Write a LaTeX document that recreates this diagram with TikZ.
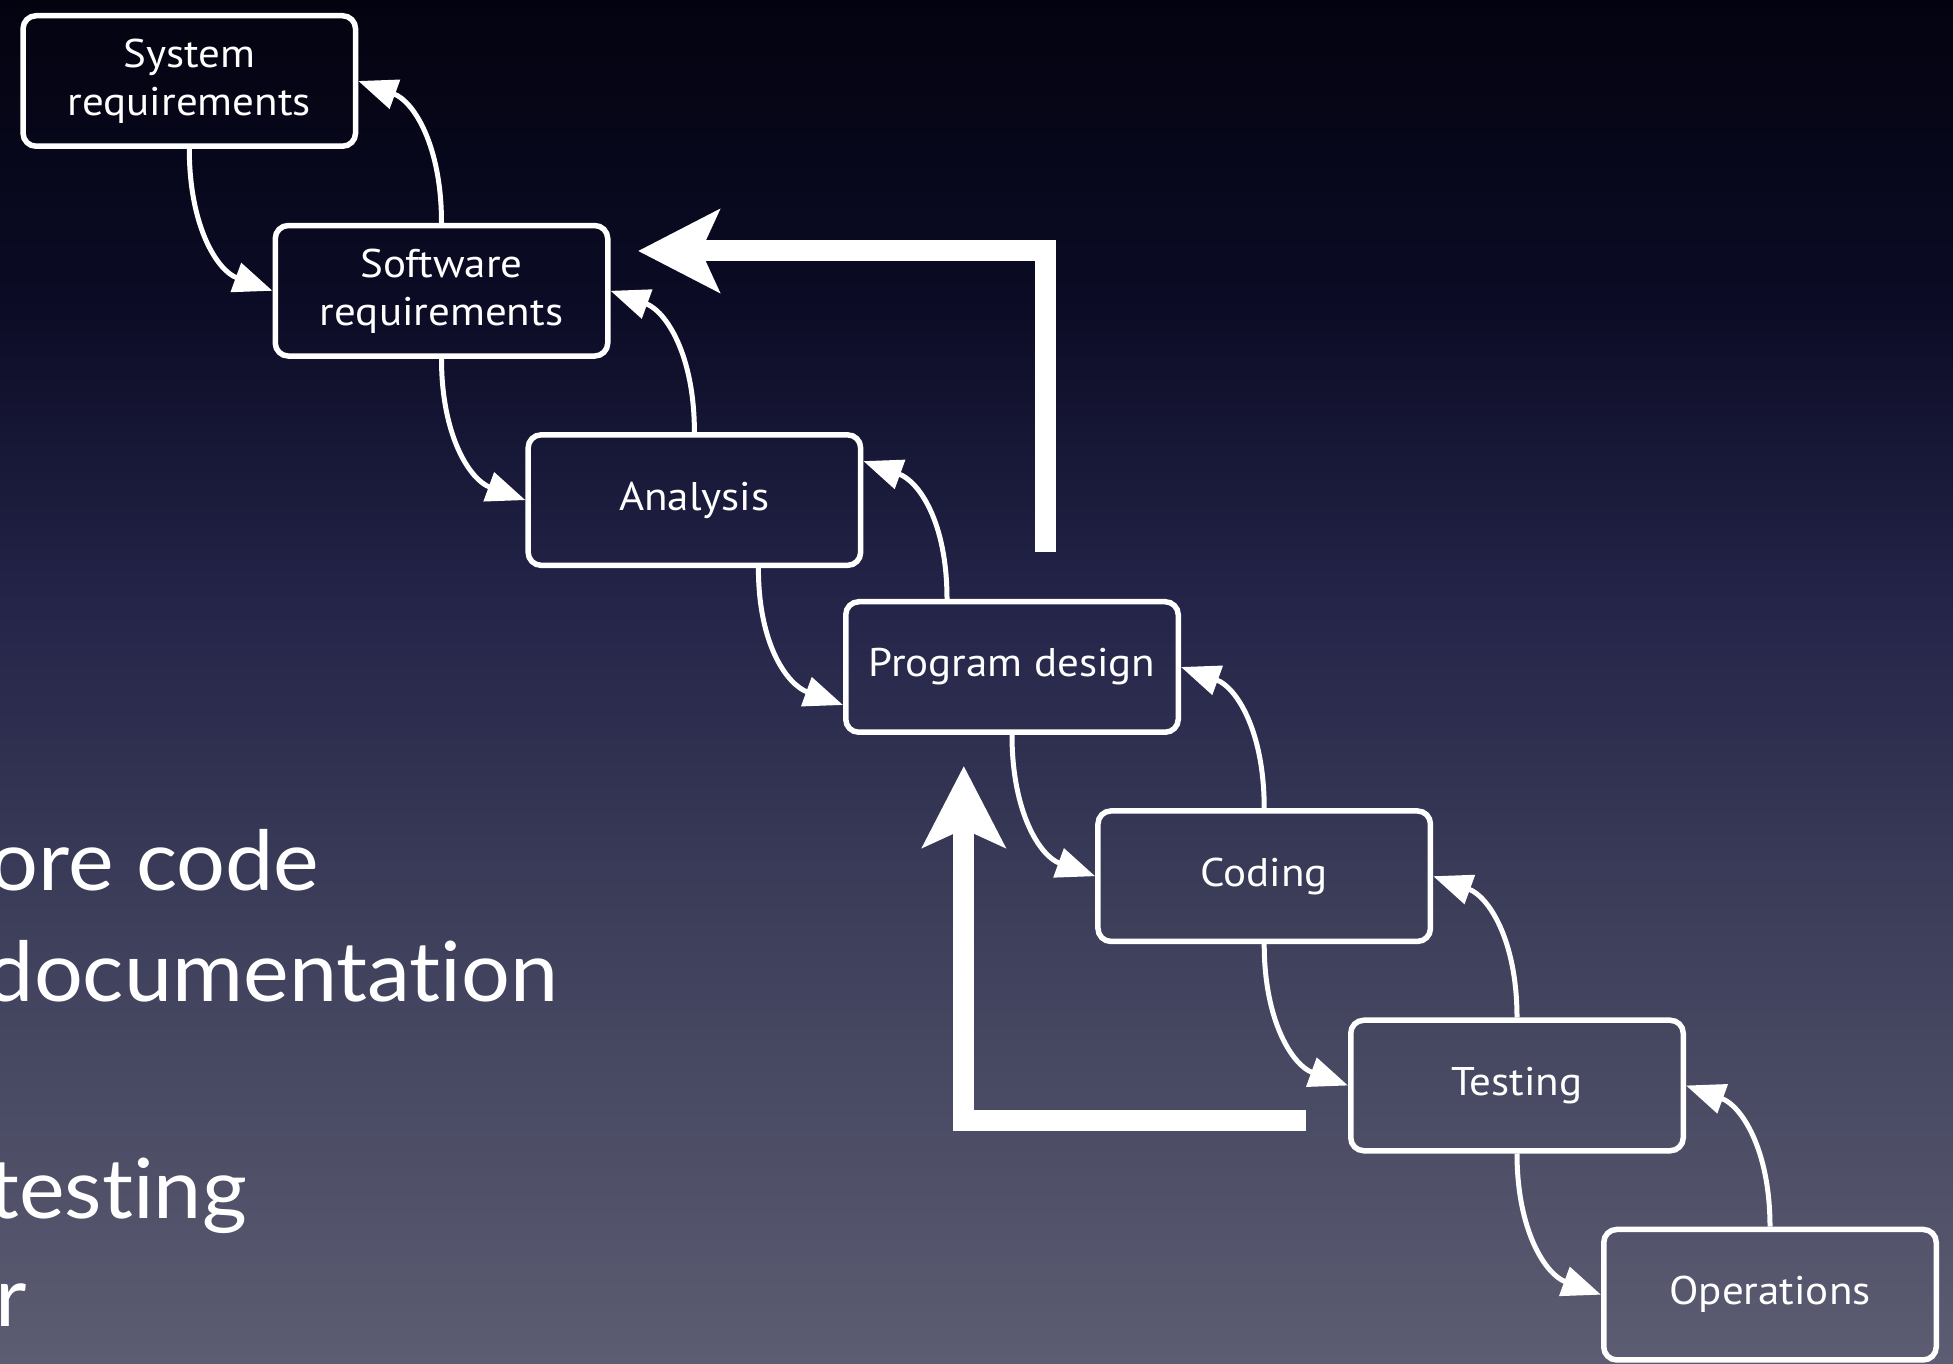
\documentclass[tikz,border=0pt]{standalone}
\usepackage{fontspec}
\usetikzlibrary{arrows.meta}
\newfontfamily\boxfont[FakeStretch=1.075]{PT Sans}
\newfontfamily\slidefont[FakeStretch=1.04,Ligatures={NoCommon,NoRequired,NoContextual}]{Lato}
\definecolor{bgA}{RGB}{3,3,16}
\definecolor{bgB}{RGB}{11,11,37}
\definecolor{bgC}{RGB}{35,36,72}
\definecolor{bgD}{RGB}{60,61,89}
\definecolor{bgE}{RGB}{92,92,114}
\begin{document}
\begin{tikzpicture}[x=1pt,y=1pt,
  stage/.style={draw=white, line width=5.5pt, rounded corners=13pt,
    minimum width=332.5pt, minimum height=130.5pt, inner sep=0pt,
    text=white, align=center, font=\boxfont\fontsize{40}{48}\selectfont},
  flow/.style={draw=white, line width=5pt, -{Triangle[length=39pt,width=30pt]}},
  loopback/.style={draw=white, line width=21pt, -{Stealth[length=81pt,width=82pt,inset=18pt]}},
  bullet/.style={anchor=base east, inner sep=0pt, text=white,
    font=\slidefont\fontsize{83}{100}\selectfont}]

% page frame and background gradient
\useasboundingbox (0,0) rectangle (1953,1363);
\clip (0,0) rectangle (1953,1363);
\shade[top color=bgA, bottom color=bgB] (0,1062) rectangle (1953,1363);
\shade[top color=bgB, bottom color=bgC] (0,762) rectangle (1953,1063);
\shade[top color=bgC, bottom color=bgD] (0,462) rectangle (1953,763);
\shade[top color=bgD, bottom color=bgE] (0,0) rectangle (1953,463);

% slide text running off the left edge
\node[bullet] (l1) at (319.6,472) {ore code};
\node[bullet] (l2) at (558.7,361) {documentation};
\node[bullet] (l3) at (247,144.3) {testing};
\node[bullet] (l4) at (27,36.5) {r};

% the stages
\node[stage] (sysreq)   at (189.3,1282)   {System\\requirements};
\node[stage] (swreq)    at (441.5,1072.2) {Software\\requirements};
\node[stage] (analysis) at (694.4,862.9)  {Analysis};
\node[stage] (design)   at (1012,696)     {Program design};
\node[stage] (coding)   at (1264.2,486.8) {Coding};
\node[stage] (testing)  at (1517,277.5)   {Testing};
\node[stage] (ops)      at (1770,68.3)    {Operations};

% forward steps
\draw[flow] (sysreq.south) .. controls +(0,-78) and +(-55,20) .. (swreq.west);
\draw[flow] (swreq.south) .. controls +(0,-78) and +(-55,20) .. (analysis.west);
\draw[flow] ([xshift=64pt]analysis.south) .. controls +(0,-78) and +(-55,20) .. ([yshift=-38pt]design.west);
\draw[flow] (design.south) .. controls +(0,-78) and +(-55,20) .. (coding.west);
\draw[flow] (coding.south) .. controls +(0,-78) and +(-55,20) .. (testing.west);
\draw[flow] (testing.south) .. controls +(0,-78) and +(-55,20) .. (ops.west);

% feedback steps
\draw[flow] (swreq.north) .. controls +(0,78) and +(55,-20) .. (sysreq.east);
\draw[flow] (analysis.north) .. controls +(0,78) and +(55,-20) .. (swreq.east);
\draw[flow] ([xshift=-65pt]design.north) .. controls +(0,78) and +(55,-20) .. ([yshift=39pt]analysis.east);
\draw[flow] (coding.north) .. controls +(0,78) and +(55,-20) .. (design.east);
\draw[flow] (testing.north) .. controls +(0,78) and +(55,-20) .. (coding.east);
\draw[flow] (ops.north) .. controls +(0,78) and +(55,-20) .. (testing.east);

% long return paths
\coordinate (ret1from) at (1045,811.3);
\coordinate (ret1to)   at (638,1112);
\draw[loopback] (ret1from) |- (ret1to);
\coordinate (ret2from) at (1306,243);
\coordinate (ret2to)   at (963.8,597);
\draw[loopback] (ret2from) -| (ret2to);
\end{tikzpicture}
\end{document}
